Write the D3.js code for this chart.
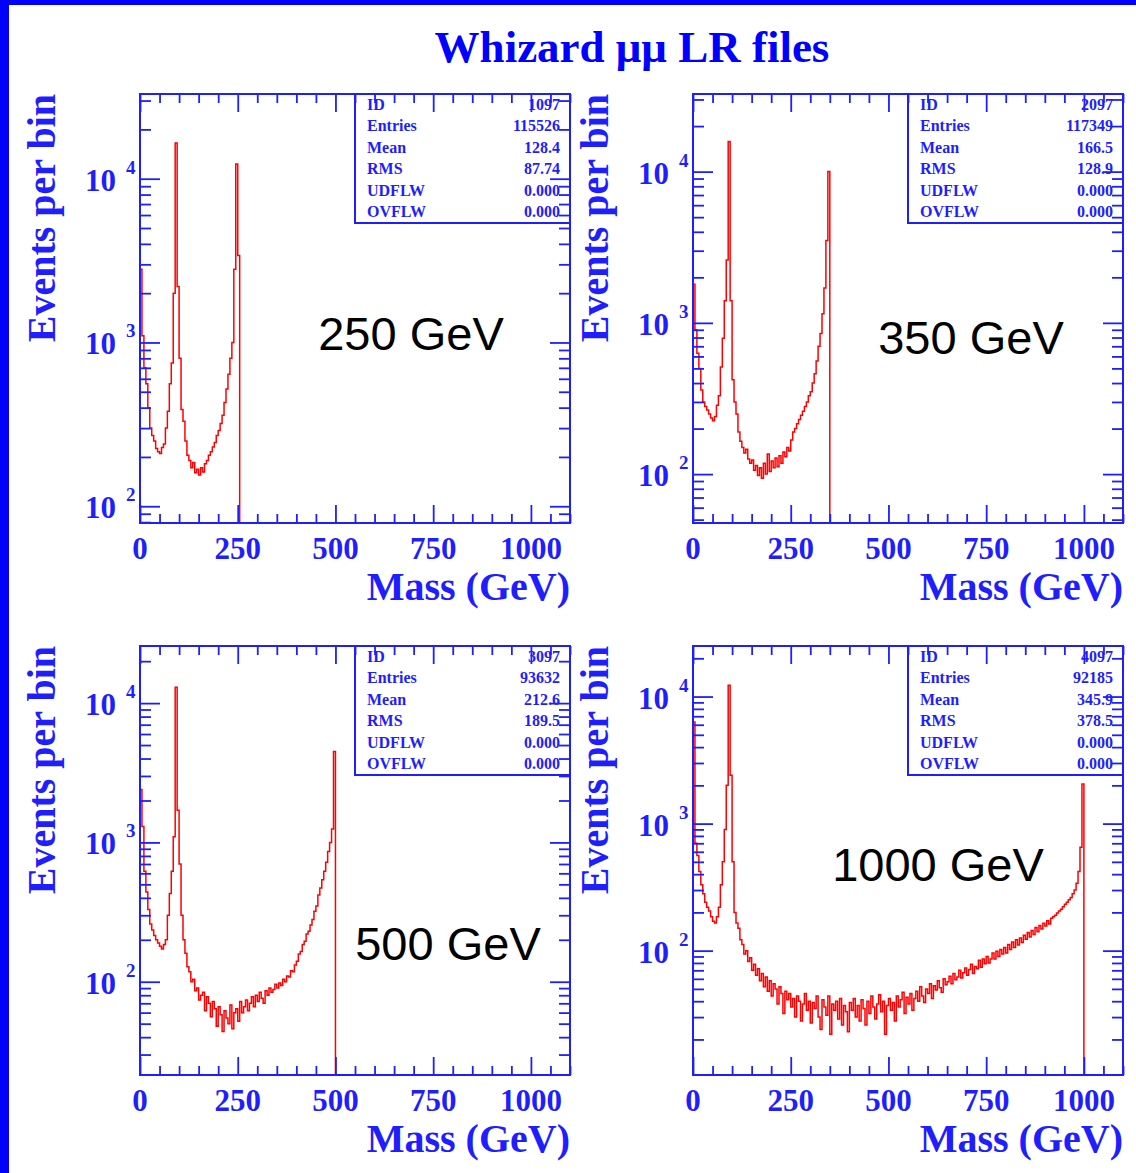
<!DOCTYPE html>
<html><head><meta charset="utf-8">
<script src="https://cdn.jsdelivr.net/npm/d3@7"></script>
<style>body{margin:0;background:#fff;} svg{display:block;}</style>
</head><body>
<svg id="c" width="1136" height="1173"></svg>
<script>
// ---------------- DATA ----------------
const binWidth = 5; // GeV per bin
const xDomain = [0, 1100];
const xTickLabels = [0, 250, 500, 750, 1000];
const energyLabels = ["250 GeV", "350 GeV", "500 GeV", "1000 GeV"];

const counts250 = [2800,1100,700,560,400,300,270,250,225,215,210,228,240,300,380,560,750,2000,16500,2200,
  800,390,330,250,205,190,172,185,160,168,155,172,162,182,190,205,215,230,245,270,
  290,320,360,430,520,640,800,1000,2800,12300,3400];

const counts350 = [1800,900,630,500,360,300,280,265,250,235,225,240,285,330,510,790,1400,2600,15800,1400,
  420,300,250,190,165,150,138,146,126,118,124,106,114,98,110,94,118,100,136,104,
  122,110,128,112,132,118,140,130,150,142,168,190,200,215,230,245,260,280,300,330,
  350,400,460,560,700,850,1150,1700,3500,10000];

const counts500 = [2400,1300,620,440,330,260,235,215,200,190,180,172,185,200,300,430,620,1100,13000,1700,
  700,300,200,160,128,118,100,104,86,90,
  74,80,84,62,78,70,56,72,64,48,
  66,58,44,62,55,50,68,46,60,64,
  52,72,60,66,74,62,70,78,66,80,
  72,84,76,70,86,80,90,84,88,96,
  90,98,94,104,100,110,108,120,118,132,
  140,158,165,185,195,220,230,255,280,320,
  350,420,470,540,620,720,860,1000,1250,4500];

const counts1000 = [6300,700,560,420,330,280,240,220,205,185,170,165,185,220,330,500,900,2000,12300,2400,
  500,200,165,150,122,112,94,100,82,88,
  70,78,64,72,58,66,52,62,48,58,
  44,55,50,38,52,46,32,48,41,46,
  36,42,30,44,40,28,38,46,34,40,
  27,39,35,44,30,24,41,36,31,44,
  22,38,34,40,29,42,26,37,33,23,
  39,34,42,30,37,28,41,35,26,40,
  32,44,36,29,38,45,33,40,22,37,
  42,34,39,28,44,36,41,47,32,43,
  38,46,34,42,48,40,52,44,39,50,
  46,55,42,53,49,58,51,47,60,54,
  57,63,55,66,59,62,70,61,67,73,
  64,71,78,66,75,72,84,74,86,79,
  90,80,86,96,86,99,90,102,94,106,
  96,112,102,117,106,122,111,126,116,132,
  123,139,128,144,134,152,141,158,148,164,
  156,172,162,180,185,190,198,205,212,222,
  232,240,252,262,280,300,340,420,650,2050];

const yMinVals = [79, 47.5, 21.4, 10.5];
const yMaxVals = [32900, 32600, 25700, 25000];

const statLabels = ["ID", "Entries", "Mean", "RMS", "UDFLW", "OVFLW"];
const statIDs = ["1097", "2097", "3097", "4097"];
const statEntries = ["115526", "117349", "93632", "92185"];
const statMeans = ["128.4", "166.5", "212.6", "345.9"];
const statRMS = ["87.74", "128.9", "189.5", "378.5"];
const statUdflw = ["0.000", "0.000", "0.000", "0.000"];
const statOvflw = ["0.000", "0.000", "0.000", "0.000"];

// ---------------- DRAWING ----------------
const BLUE = "#1e1eff";
const SERIF = "'Liberation Serif','Times New Roman',serif";
const svg = d3.select("#c");
svg.append("rect").attr("width", 1136).attr("height", 1173).attr("fill", "#fff");
svg.append("rect").attr("x", 0).attr("y", 0).attr("width", 1136).attr("height", 5).attr("fill", "#0000ff");
svg.append("rect").attr("x", 0).attr("y", 0).attr("width", 9).attr("height", 1173).attr("fill", "#0000ff");

svg.append("text").attr("x", 632).attr("y", 62).attr("text-anchor", "middle")
  .attr("font-family", SERIF).attr("font-weight", "bold").attr("font-size", 45)
  .attr("fill", "#0000ff").text("Whizard μμ LR files");

const hists = [counts250, counts350, counts500, counts1000];
const frames = [{x:140,y:94},{x:693,y:94},{x:140,y:646},{x:693,y:646}];
const W = 430, H = 429;
const labelPos = [[271,256],[278,260],[308,314],[245,235]];

function styleAxis(sel) {
  sel.select(".domain").remove();
  sel.selectAll(".tick line").attr("stroke", BLUE).attr("stroke-width", 1.8);
}

hists.forEach((counts, i) => {
  const f = frames[i];
  const g = svg.append("g").attr("transform", `translate(${f.x},${f.y})`);
  const x = d3.scaleLinear().domain(xDomain).range([0, W]);
  const y = d3.scaleLog().domain([yMinVals[i], yMaxVals[i]]).range([H, 0]);

  const cid = "clip" + i;
  g.append("clipPath").attr("id", cid).append("rect").attr("width", W).attr("height", H);

  // stats box
  const bx = 215, bh = 129;
  g.append("rect").attr("x", bx).attr("y", 0).attr("width", W - bx).attr("height", bh)
    .attr("fill", "#fff").attr("stroke", BLUE).attr("stroke-width", 2);
  const vals = [statIDs[i], statEntries[i], statMeans[i], statRMS[i], statUdflw[i], statOvflw[i]];
  statLabels.forEach((lab, r) => {
    const yy = 16 + r * 21.4;
    g.append("text").attr("x", 227).attr("y", yy).attr("font-family", SERIF).attr("font-weight", "bold")
      .attr("font-size", 16).attr("fill", BLUE).text(lab);
    g.append("text").attr("x", 420).attr("y", yy).attr("text-anchor", "end").attr("font-family", SERIF)
      .attr("font-weight", "bold").attr("font-size", 16).attr("fill", BLUE).text(vals[r]);
  });

  // histogram
  const pts = [[0, yMinVals[i]]];
  counts.forEach((c, k) => pts.push([k * binWidth, c]));
  const end = counts.length * binWidth;
  pts.push([end, counts[counts.length - 1]]);
  pts.push([end, yMinVals[i]]);
  const line = d3.line().x(d => x(d[0])).y(d => y(d[1])).curve(d3.curveStepAfter);
  g.append("path").attr("d", line(pts)).attr("fill", "none").attr("stroke", "#ff0000")
    .attr("stroke-width", 1.5).attr("clip-path", `url(#${cid})`);

  // x ticks
  const majorX = d3.range(xDomain[0], xDomain[1] + 1, 250);
  const minorX = d3.range(xDomain[0], xDomain[1] + 1, 50).filter(v => v % 250 !== 0);
  g.append("g").attr("transform", `translate(0,${H})`).call(d3.axisBottom(x).tickValues(minorX).tickSize(-9).tickFormat("")).call(styleAxis);
  g.append("g").attr("transform", `translate(0,${H})`).call(d3.axisBottom(x).tickValues(majorX).tickSize(-18).tickFormat("")).call(styleAxis);
  g.append("g").call(d3.axisTop(x).tickValues(minorX).tickSize(-9).tickFormat("")).call(styleAxis);
  g.append("g").call(d3.axisTop(x).tickValues(majorX).tickSize(-18).tickFormat("")).call(styleAxis);

  // y ticks (log)
  const lo = Math.floor(Math.log10(yMinVals[i])), hi = Math.ceil(Math.log10(yMaxVals[i]));
  const majorY = [], minorY = [];
  for (let p = lo; p <= hi; p++) {
    for (let k = 1; k <= 9; k++) {
      const v = k * Math.pow(10, p);
      if (v >= yMinVals[i] && v <= yMaxVals[i]) (k === 1 ? majorY : minorY).push(v);
    }
  }
  g.append("g").call(d3.axisLeft(y).tickValues(minorY).tickSize(-11).tickFormat("")).call(styleAxis);
  g.append("g").call(d3.axisLeft(y).tickValues(majorY).tickSize(-20).tickFormat("")).call(styleAxis);
  g.append("g").attr("transform", `translate(${W},0)`).call(d3.axisRight(y).tickValues(minorY).tickSize(-11).tickFormat("")).call(styleAxis);
  g.append("g").attr("transform", `translate(${W},0)`).call(d3.axisRight(y).tickValues(majorY).tickSize(-20).tickFormat("")).call(styleAxis);

  // frame
  g.append("rect").attr("width", W).attr("height", H).attr("fill", "none").attr("stroke", BLUE).attr("stroke-width", 2);

  // x tick labels
  xTickLabels.forEach(v => {
    g.append("text").attr("x", x(v)).attr("y", H + 36).attr("text-anchor", "middle")
      .attr("font-family", SERIF).attr("font-weight", "bold").attr("font-size", 31).attr("fill", BLUE).text(v);
  });
  // y tick labels
  majorY.forEach(v => {
    const yy = y(v);
    g.append("text").attr("x", -24).attr("y", yy + 12).attr("text-anchor", "end")
      .attr("font-family", SERIF).attr("font-weight", "bold").attr("font-size", 31).attr("fill", BLUE).text("10");
    g.append("text").attr("x", -14).attr("y", yy - 5).attr("text-anchor", "start")
      .attr("font-family", SERIF).attr("font-weight", "bold").attr("font-size", 19).attr("fill", BLUE)
      .text(Math.round(Math.log10(v)));
  });

  // axis titles
  g.append("text").attr("x", W).attr("y", H + 77).attr("text-anchor", "end")
    .attr("font-family", SERIF).attr("font-weight", "bold").attr("font-size", 40).attr("fill", BLUE).text("Mass (GeV)");
  g.append("text").attr("transform", "translate(-85,0) rotate(-90)").attr("x", 0).attr("y", 0)
    .attr("text-anchor", "end").attr("font-family", SERIF).attr("font-weight", "bold")
    .attr("font-size", 40).attr("fill", BLUE).text("Events per bin");

  // energy label
  g.append("text").attr("x", labelPos[i][0]).attr("y", labelPos[i][1]).attr("text-anchor", "middle")
    .attr("font-family", "'Liberation Sans',Arial,sans-serif").attr("font-size", 47).attr("fill", "#000")
    .text(energyLabels[i]);
});
</script>
</body></html>
